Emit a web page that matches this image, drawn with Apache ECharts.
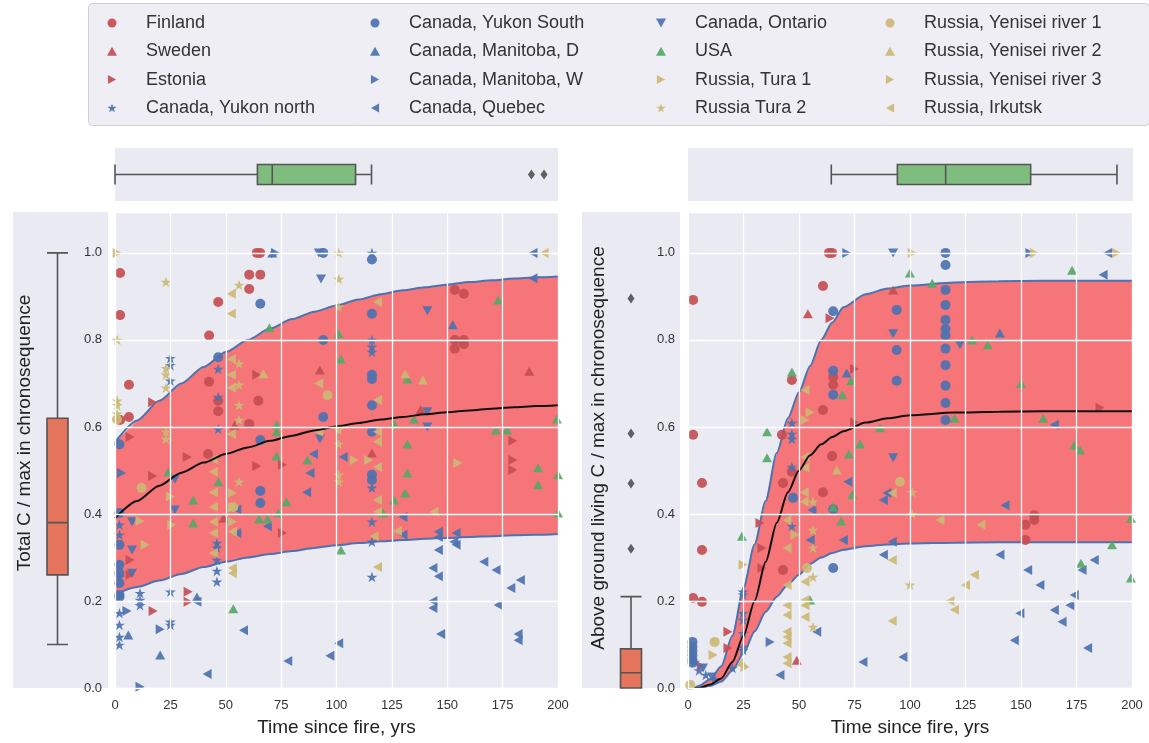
<!DOCTYPE html>
<html><head><meta charset="utf-8">
<script src="https://cdn.jsdelivr.net/npm/echarts@6/dist/echarts.min.js"></script>
<style>html,body{margin:0;padding:0;background:#fff}#c{width:1149px;height:743px}</style>
</head><body><div id="c"></div><script>
// ---------- DATA ----------
const xTickValues = [0, 25, 50, 75, 100, 125, 150, 175, 200];
const yTickValues = [0.0, 0.2, 0.4, 0.6, 0.8, 1.0];

// fitted curves
const totalFitX      = [0,10,20,30,40,50,60,70,80,90,100,110,120,130,140,150,160,170,180,190,200];
const totalFitMedian = [0.39,0.43,0.465,0.495,0.518,0.538,0.553,0.568,0.58,0.592,0.601,0.609,0.617,0.623,0.629,0.634,0.638,0.642,0.645,0.648,0.65];
const totalFitUpper  = [0.565,0.615,0.66,0.70,0.738,0.772,0.80,0.826,0.848,0.865,0.879,0.893,0.905,0.914,0.921,0.927,0.933,0.937,0.941,0.944,0.946];
const totalFitLower  = [0.215,0.232,0.247,0.262,0.278,0.29,0.30,0.308,0.315,0.322,0.328,0.333,0.337,0.34,0.343,0.345,0.347,0.349,0.351,0.352,0.354];

const aboveFitX      = [3,5,10,15,20,25,30,35,40,45,50,55,60,65,70,80,90,100,120,140,160,200];
const aboveFitMedian = [0.0,0.0,0.008,0.022,0.06,0.12,0.2,0.29,0.38,0.45,0.5,0.535,0.56,0.577,0.59,0.61,0.62,0.627,0.633,0.635,0.636,0.636];
const aboveFitUpper  = [0.0,0.005,0.02,0.05,0.12,0.23,0.33,0.43,0.54,0.62,0.68,0.74,0.8,0.84,0.875,0.905,0.918,0.925,0.932,0.935,0.936,0.936];
const aboveFitLower  = [0.0,0.0,0.005,0.015,0.04,0.08,0.13,0.175,0.21,0.238,0.26,0.285,0.3,0.31,0.318,0.326,0.33,0.332,0.334,0.335,0.335,0.335];

// box plots: [min, Q1, median, Q3, max]
const ageBoxTotal   = [0, 64.3, 71, 108.6, 115.8];
const ageOutTotal   = [188, 193.7];
const ageBoxAbove   = [64.4, 94.1, 115.8, 154, 192.8];
const ratioBoxTotal = [0.1, 0.26, 0.38, 0.62, 1.0];
const ratioBoxAbove = [0, 0, 0.035, 0.09, 0.21];
const ratioOutAbove = [0.32, 0.47, 0.585, 0.895];

// scatter points [age, ratio] — Total C panel
const finlandTotal = [[2.3,0.954],[2.3,0.857],[2.3,0.616],[6.3,0.697],[6.3,0.623],[42.5,0.81],[42.5,0.704],[42,0.538],[46.6,0.887],[46.6,0.66],[46.6,0.636],[60.6,0.95],[60.6,0.917],[60.6,0.607],[64,1.0],[65.5,1.0],[65.6,0.95],[64.7,0.66],[153.4,0.915],[157.5,0.906],[153.4,0.80],[157.5,0.80],[153.4,0.78],[157.5,0.79]];
const swedenTotal = [[49,0.39],[54,0.604],[92.5,0.731],[116,0.54],[138,0.64],[187,0.728]];
const estoniaTotal = [[6.8,0.577],[6.8,0.294],[6.8,0.26],[17,0.657],[17,0.487],[17.2,0.177],[32.6,0.531],[33,0.221],[33,0.198],[64,0.72],[64,0.51],[75.6,0.513],[75.6,0.356],[179.6,0.568],[179.6,0.524],[179.6,0.501]];
const yukonNorthTotal = [[2,0.375],[2,0.352],[2,0.283],[2,0.255],[2,0.172],[2,0.145],[2,0.117],[2,0.099],[11.3,0.218],[11.3,0.202],[11.3,0.19],[25,0.758],[25,0.742],[25,0.706],[25,0.221],[25,0.152],[25,0.145],[46.6,0.733],[46.6,0.669],[46.6,0.595],[46,0.333],[46,0.322],[46,0.294],[46,0.269],[46,0.244],[116,1.0],[116,0.80],[116,0.784],[116,0.772],[116,0.46],[116,0.382],[116,0.336],[116,0.255]];
const yukonSouthTotal = [[2,0.56],[2,0.402],[2,0.329],[2,0.283],[2,0.264],[2,0.241],[2,0.214],[2,0.209],[46.6,0.76],[65.6,0.883],[65.6,0.57],[65.6,0.453],[65.6,0.425],[94,1.0],[94,0.80],[94,0.623],[116,0.985],[116,0.86],[116,0.72],[116,0.71],[116,0.65],[116,0.589],[116,0.49],[116,0.478]];
const manitobaDTotal = [[6,0.122],[20.4,0.076],[37,0.209],[71,1.0],[152.5,0.835]];
const manitobaWTotal = [[3,0.494],[5.4,0.177],[11.3,0.003],[20.4,0.135],[72.5,1.0]];
const quebecTotal = [[37,0.198],[41.6,0.032],[55,0.41],[55,0.356],[58,0.133],[68.8,0.372],[78,0.062],[86.5,0.45],[88,0.494],[89.6,0.538],[97,0.074],[101,0.103],[103,0.531],[130,0.393],[130,0.352],[146,0.359],[146,0.347],[154,0.356],[153,0.336],[154,0.329],[146,0.317],[143.5,0.276],[146,0.257],[143.5,0.2],[143.5,0.184],[147,0.124],[166.5,0.29],[172,0.271],[178.7,0.23],[183,0.248],[173,0.191],[182,0.124],[182,0.11],[188.7,1.0],[188.7,0.942]];
const ontarioTotal = [[7.7,0.382],[7.7,0.317],[7.7,0.264],[27,0.48],[27,0.409],[92,1.0],[93,0.94],[92.5,0.572],[141,0.867],[141,0.635],[141,0.60]];
const usaTotal = [[24,0.497],[35.3,0.432],[35.3,0.379],[46.7,0.474],[53.4,0.182],[65,0.389],[68.8,0.389],[69.7,0.828],[72.9,0.533],[73,0.605],[73,0.589],[73.8,0.402],[77.4,0.428],[86.9,0.524],[101,0.814],[102,0.756],[102,0.317],[121,0.402],[126,0.607],[126,0.432],[131,0.448],[132,0.71],[132,0.561],[132,0.494],[135,0.618],[172,0.593],[173,0.892],[177,0.593],[191,0.506],[191,0.467],[199.5,0.618],[200,0.49],[200,0.402]];
const tura1Total = [[1,1.0],[11.3,0.384],[13.6,0.329],[25,0.44],[25.6,0.375],[53,0.448],[53,0.382],[114.5,0.524]];
const tura2Total = [[1,0.80],[1,0.66],[1,0.65],[1,0.63],[23,0.933],[23,0.735],[23,0.72],[23,0.69],[23,0.589],[23,0.572],[56,0.926],[56,0.745],[56,0.697],[56,0.65],[56,0.616],[56,0.474],[101,1.0],[101,0.94],[101,0.876],[101,0.593],[101,0.561],[101,0.49],[101,0.474]];
const yenisei1Total = [[0.9,0.617],[12,0.46],[53.4,0.416],[96,0.673]];
const yenisei2Total = [[67,0.722],[131,0.722],[139,0.708]];
const yenisei3Total = [[53,0.414],[108,0.524],[154.8,0.517]];
const irkutskTotal = [[44.4,0.526],[44.4,0.497],[44.4,0.45],[44.4,0.416],[44.4,0.382],[44.4,0.356],[44.4,0.31],[52.5,0.906],[52.5,0.86],[52.5,0.756],[52.5,0.72],[52.5,0.69],[52.5,0.584],[53,0.359],[53,0.276],[53,0.264],[92,0.70],[92,0.589],[117,0.349],[118.5,0.887],[118.5,0.662],[118.5,0.589],[118.5,0.566],[118.5,0.508],[118.5,0.432],[118.5,0.405],[118.5,0.278],[127.5,0.361],[144,0.405],[193.7,1.0]];

// scatter points [age, ratio] — Above ground living C panel
const finlandAbove = [[2.3,0.892],[2.3,0.582],[2.3,0.207],[6.3,0.471],[6.3,0.317],[6.3,0.198],[42.3,0.582],[42.8,0.471],[42.8,0.271],[46.8,0.708],[46.8,0.497],[60.8,0.924],[60.8,0.639],[60.8,0.45],[63.5,1.0],[64.9,1.0],[64.9,0.533],[65.4,0.715],[65.4,0.697],[152,0.34],[156,0.397],[156,0.386],[152,0.375]];
const swedenAbove = [[49,0.064],[54,0.86],[92.4,0.915]];
const estoniaAbove = [[6,0.05],[18,0.129],[18,0.092],[32.4,0.379],[33.3,0.322],[33.3,0.276],[64,0.85],[75,0.733],[75,0.611],[185.6,0.644]];
const yukonNorthAbove = [[3,0.06],[5,0.04],[8,0.03],[12,0.02],[20,0.046],[24.8,0.221],[24.8,0.214],[24.8,0.172],[24.8,0.156],[24.8,0.126],[24.8,0.094],[24.8,0.087],[46.8,0.609],[46.8,0.584],[46.8,0.572],[46.8,0.508],[46.8,0.372]];
const yukonSouthAbove = [[2,0.106],[2,0.095],[2,0.085],[2,0.075],[2,0.065],[2,0.058],[47.3,0.437],[65.4,0.866],[65.4,0.729],[65.4,0.674],[65.4,0.411],[65.4,0.276],[94,0.869],[94,0.777],[94,0.706],[116,1.0],[116,0.972],[116,0.915],[116,0.88],[116,0.846],[116,0.825],[116,0.81],[116,0.78],[116,0.742],[116,0.695],[116,0.655],[116,0.616]];
const manitobaDAbove = [[71.5,0.724],[140.5,0.816]];
const manitobaWAbove = [[37,0.106],[71.5,1.0],[154,1.0]];
const quebecAbove = [[41.4,0.03],[55,0.34],[55.8,0.409],[58,0.129],[70,0.34],[72,0.474],[78.8,0.06],[88,0.432],[88,0.306],[89.6,0.448],[92,0.336],[96.8,0.071],[140.5,0.306],[142.8,0.42],[147,0.11],[149.5,0.172],[153,0.271],[158.5,0.237],[165,0.605],[165,0.179],[168.5,0.152],[172,0.19],[174,0.214],[177.5,0.271],[180,0.092],[183,0.294],[187,0.95],[189,1.0]];
const ontarioAbove = [[6.8,0.046],[10.8,0.025],[92.4,1.0],[92.4,0.814],[92.4,0.529],[122.5,0.789]];
const usaAbove = [[24.3,0.349],[35.6,0.589],[35.6,0.529],[46.8,0.726],[55,0.202],[65.4,0.416],[69,0.384],[69.5,0.674],[72.5,0.538],[73.4,0.706],[74,0.444],[77.5,0.561],[86.5,0.598],[100,0.954],[110,0.93],[120,0.62],[128,0.8],[135,0.789],[150,0.7],[160,0.62],[173,0.96],[174,0.558],[176.6,0.547],[177,0.287],[191,0.329],[199.5,0.39],[199.5,0.253]];
const tura1Above = [[11.3,0.076],[24.8,0.283],[25.7,0.048],[48.2,0.352],[55,0.634],[101,1.0],[156,1.0]];
const tura2Above = [[56.3,0.428],[56.3,0.363],[56.3,0.322],[56.3,0.255],[56.3,0.14],[100,0.237],[101,0.45],[101,0.4]];
const yenisei1Above = [[1,0.007],[12,0.106],[53.6,0.276],[95.5,0.474]];
const yenisei2Above = [[24.3,0.06],[67,0.501]];
const yenisei3Above = [[52.7,0.616],[193,1.0]];
const irkutskAbove = [[44.6,0.386],[44.6,0.322],[44.6,0.237],[44.6,0.19],[44.6,0.168],[44.6,0.129],[44.6,0.117],[44.6,0.103],[44.6,0.071],[44.6,0.057],[52.3,0.45],[52.3,0.428],[52.7,0.685],[52.7,0.531],[52.7,0.506],[52.7,0.244],[52.7,0.202],[52.7,0.19],[52.7,0.163],[92,0.448],[92,0.294],[92,0.154],[113.5,0.386],[118,0.2],[120,0.18],[125,0.237],[129,0.26],[132,0.375]];

// ---------- STYLE ----------
const RED = '#C44E52', BLUE = '#4C72B0', GREEN = '#55A868', GOLD = '#CCB974';
const SYM = {
  circle: 'circle',
  up: 'path://M5,0L10,9L0,9Z',
  down: 'path://M0,0L10,0L5,9Z',
  right: 'path://M0,0L9,5L0,10Z',
  left: 'path://M9,0L0,5L9,10Z',
  star: 'path://M5,0L6.2,3.6L10,3.6L6.9,5.8L8.1,9.5L5,7.2L1.9,9.5L3.1,5.8L0,3.6L3.8,3.6Z'
};
const sites = [
  ['Finland', SYM.circle, RED, finlandTotal, finlandAbove],
  ['Sweden', SYM.up, RED, swedenTotal, swedenAbove],
  ['Estonia', SYM.right, RED, estoniaTotal, estoniaAbove],
  ['Canada, Yukon north', SYM.star, BLUE, yukonNorthTotal, yukonNorthAbove],
  ['Canada, Yukon South', SYM.circle, BLUE, yukonSouthTotal, yukonSouthAbove],
  ['Canada, Manitoba, D', SYM.up, BLUE, manitobaDTotal, manitobaDAbove],
  ['Canada, Manitoba, W', SYM.right, BLUE, manitobaWTotal, manitobaWAbove],
  ['Canada, Quebec', SYM.left, BLUE, quebecTotal, quebecAbove],
  ['Canada, Ontario', SYM.down, BLUE, ontarioTotal, ontarioAbove],
  ['USA', SYM.up, GREEN, usaTotal, usaAbove],
  ['Russia, Tura 1', SYM.right, GOLD, tura1Total, tura1Above],
  ['Russia Tura 2', SYM.star, GOLD, tura2Total, tura2Above],
  ['Russia, Yenisei river 1', SYM.circle, GOLD, yenisei1Total, yenisei1Above],
  ['Russia, Yenisei river 2', SYM.up, GOLD, yenisei2Total, yenisei2Above],
  ['Russia, Yenisei river 3', SYM.right, GOLD, yenisei3Total, yenisei3Above],
  ['Russia, Irkutsk', SYM.left, GOLD, irkutskTotal, irkutskAbove]
];

const FONT = '"Liberation Sans", Arial, Helvetica, sans-serif';
const BG = '#EAEAF2';
const YMAX = 1.094;

const chart = echarts.init(document.getElementById('c'), null, {renderer: 'canvas'});

function valueX(grid) {
  return {type: 'value', gridIndex: grid, min: 0, max: 200, interval: 25,
    axisLine: {show: false}, axisTick: {show: false},
    axisLabel: {color: '#333', fontSize: 13, fontFamily: FONT, margin: 11},
    splitLine: {lineStyle: {color: '#fff', width: 1.3}},
    name: 'Time since fire, yrs', nameLocation: 'middle', nameGap: 30,
    nameTextStyle: {color: '#222', fontSize: 19, fontFamily: FONT}, z: 5};
}
function valueY(grid) {
  return {type: 'value', gridIndex: grid, min: 0, max: YMAX, interval: 0.2,
    axisLine: {show: false}, axisTick: {show: false},
    axisLabel: {color: '#333', fontSize: 13, fontFamily: FONT, margin: 13, showMaxLabel: false,
      formatter: v => (yTickValues.some(t => Math.abs(t - v) < 1e-6) ? v.toFixed(1) : '')},
    splitLine: {lineStyle: {color: '#fff', width: 1.3}}, z: 5};
}
const hiddenVal = (grid, max) => ({type: 'value', gridIndex: grid, min: 0, max: max, show: false, splitLine: {show: false}});
const hiddenCat = grid => ({type: 'category', gridIndex: grid, data: ['a'], show: false});

const gridBase = {show: true, backgroundColor: BG, borderWidth: 0, containLabel: false};
const grids = [
  Object.assign({left: 115, top: 212, width: 443, height: 476}, gridBase),
  Object.assign({left: 115, top: 148, width: 443, height: 53}, gridBase),
  {left: 10, top: 212, width: 95, height: 476, show: false},
  Object.assign({left: 688, top: 212, width: 444, height: 476}, gridBase),
  Object.assign({left: 688, top: 148, width: 445, height: 53}, gridBase),
  Object.assign({left: 582, top: 212, width: 98, height: 476}, gridBase)
];

const series = [];
function band(xi, xs, lower, upper, median) {
  series.push({type: 'custom', xAxisIndex: xi, yAxisIndex: xi, silent: true, z: 1, data: [0],
    renderItem: (params, api) => {
      const top = xs.map((x, i) => api.coord([x, upper[i]]));
      const bot = xs.map((x, i) => api.coord([x, lower[i]])).reverse();
      return {type: 'polygon', shape: {points: top.concat(bot)}, style: {fill: 'rgba(255,0,0,0.5)'}};
    }});
  [[lower, BLUE], [upper, BLUE], [median, '#111']].forEach(([ys, c]) => {
    series.push({type: 'line', xAxisIndex: xi, yAxisIndex: xi, smooth: 0.25, smoothMonotone: 'x', showSymbol: false, silent: true,
      data: xs.map((x, i) => [x, ys[i]]), lineStyle: {color: c, width: 2}, z: c === BLUE ? 2 : 4});
  });
}
band(0, totalFitX, totalFitLower, totalFitUpper, totalFitMedian);
band(3, aboveFitX, aboveFitLower, aboveFitUpper, aboveFitMedian);

sites.forEach(([name, sym, color, tot, abv]) => {
  [[0, tot], [3, abv]].forEach(([ax, pts]) => {
    series.push({type: 'scatter', name: name, xAxisIndex: ax, yAxisIndex: ax, data: pts,
      symbol: sym, symbolSize: sym === SYM.star ? 11 : 10, symbolKeepAspect: true,
      itemStyle: {color: color, opacity: 0.92}, z: 3});
  });
});

const boxStyle = fill => ({color: fill, borderColor: '#555', borderWidth: 1.6});
const outlierStyle = {color: '#3d3d3d'};
series.push({type: 'boxplot', xAxisIndex: 1, yAxisIndex: 1, data: [ageBoxTotal], boxWidth: [20, 20], itemStyle: boxStyle('#7FBD7F'), silent: true});
series.push({type: 'scatter', xAxisIndex: 1, yAxisIndex: 1, data: ageOutTotal.map(v => [v, 0]), symbol: 'diamond', symbolSize: [7, 10], itemStyle: outlierStyle, silent: true});
series.push({type: 'boxplot', xAxisIndex: 4, yAxisIndex: 4, data: [ageBoxAbove], boxWidth: [20, 20], itemStyle: boxStyle('#7FBD7F'), silent: true});
series.push({type: 'boxplot', xAxisIndex: 2, yAxisIndex: 2, data: [ratioBoxTotal], boxWidth: [21, 21], itemStyle: boxStyle('#E5745C'), silent: true});
series.push({type: 'boxplot', xAxisIndex: 5, yAxisIndex: 5, data: [ratioBoxAbove], boxWidth: [21, 21], itemStyle: boxStyle('#E5745C'), silent: true});
series.push({type: 'scatter', xAxisIndex: 5, yAxisIndex: 5, data: ratioOutAbove.map(v => [0, v]), symbol: 'diamond', symbolSize: [7, 10], itemStyle: outlierStyle, silent: true});

const legendCols = [
  [107, sites.slice(0, 4)], [370, sites.slice(4, 8)], [656, sites.slice(8, 12)], [885, sites.slice(12, 16)]
];
const legends = legendCols.map(([left, items]) => ({
  orient: 'vertical', left: left, top: 14, padding: 0, itemGap: 10.3,
  itemWidth: 58, itemHeight: 9, symbolKeepAspect: true, selectedMode: false,
  textStyle: {fontSize: 18, fontFamily: FONT, color: '#333', lineHeight: 18},
  data: items.map(s => ({name: s[0], icon: s[1]}))
}));

chart.setOption({
  animation: false,
  backgroundColor: '#fff',
  grid: grids,
  xAxis: [valueX(0), hiddenVal(1, 200), hiddenCat(2), valueX(3), hiddenVal(4, 200), hiddenCat(5)],
  yAxis: [valueY(0), hiddenCat(1), hiddenVal(2, YMAX), valueY(3), hiddenCat(4), hiddenVal(5, YMAX)],
  legend: legends,
  graphic: [
    {type: 'rect', left: 88, top: 3, shape: {width: 1061, height: 122, r: 4}, z: -1,
      style: {fill: '#EEEEF4', stroke: '#CFCFD6', lineWidth: 1}},
    {type: 'rect', left: 13, top: 212, shape: {width: 95, height: 476}, z: -1, silent: true,
      style: {fill: BG}},
    {type: 'text', x: 25, y: 433, rotation: Math.PI / 2, z: 10,
      style: {text: 'Total C / max in chronosequence', fontSize: 19, fontFamily: FONT, fill: '#222', align: 'center', verticalAlign: 'middle'}},
    {type: 'text', x: 599, y: 448, rotation: Math.PI / 2, z: 10,
      style: {text: 'Above ground living C / max in chronosequence', fontSize: 19, fontFamily: FONT, fill: '#222', align: 'center', verticalAlign: 'middle'}}
  ],
  series: series
});
</script></body></html>
